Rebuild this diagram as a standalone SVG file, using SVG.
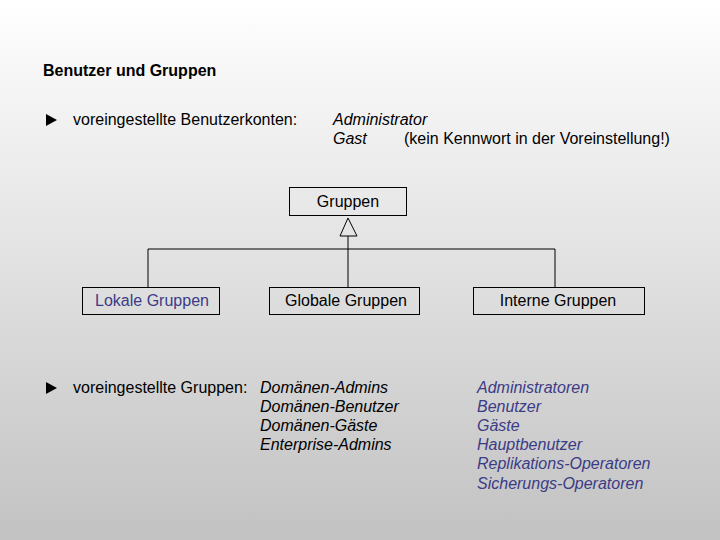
<svg xmlns="http://www.w3.org/2000/svg" width="720" height="540" viewBox="0 0 720 540">
<defs>
<linearGradient id="bg" x1="0" y1="0" x2="0" y2="1">
<stop offset="0" stop-color="#ffffff"/>
<stop offset="1" stop-color="#c2c2c2"/>
</linearGradient>
<style>
text{font-family:"Liberation Sans",Arial,sans-serif;font-size:16px;fill:#000}
.b{font-weight:bold;font-size:16px}
.i{font-style:italic}
.blue{fill:#3b3b86}
.box{fill:none;stroke:#000;stroke-width:1}
.ln{fill:none;stroke:#000;stroke-width:1}
.c{text-anchor:middle}
</style>
</defs>
<rect width="720" height="540" fill="url(#bg)"/>
<text class="b" x="43" y="76">Benutzer und Gruppen</text>
<path d="M46 114 L57 120 L46 126 Z" fill="#000"/>
<text x="73" y="125">voreingestellte Benutzerkonten:</text>
<text class="i" x="333" y="125">Administrator</text>
<text class="i" x="333" y="144">Gast</text>
<text x="404" y="144">(kein Kennwort in der Voreinstellung!)</text>
<g id="connectors">
<path class="ln" d="M348 236 V287 M148 287 V249 H555 V287"/>
<path class="ln" d="M348 218 L357 236 H340 Z" fill="#fff"/>
</g>
<g id="gruppen">
<rect class="box" x="289.5" y="187.5" width="117" height="28"/>
<text class="c" x="348" y="207">Gruppen</text>
</g>
<g id="lokale">
<rect class="box" x="82.5" y="287.5" width="137" height="27"/>
<text class="c blue" x="152" y="306">Lokale Gruppen</text>
</g>
<g id="globale">
<rect class="box" x="269.5" y="287.5" width="150" height="27"/>
<text class="c" x="346" y="306">Globale Gruppen</text>
</g>
<g id="interne">
<rect class="box" x="473.5" y="287.5" width="171" height="27"/>
<text class="c" x="558" y="306">Interne Gruppen</text>
</g>
<path d="M46 382 L57 388 L46 394 Z" fill="#000"/>
<text x="73" y="393">voreingestellte Gruppen:</text>
<text class="i" x="260" y="393">Domänen-Admins</text>
<text class="i" x="260" y="412">Domänen-Benutzer</text>
<text class="i" x="260" y="431">Domänen-Gäste</text>
<text class="i" x="260" y="450">Enterprise-Admins</text>
<text class="i blue" x="477" y="393">Administratoren</text>
<text class="i blue" x="477" y="412">Benutzer</text>
<text class="i blue" x="477" y="431">Gäste</text>
<text class="i blue" x="477" y="450">Hauptbenutzer</text>
<text class="i blue" x="477" y="469">Replikations-Operatoren</text>
<text class="i blue" x="477" y="489">Sicherungs-Operatoren</text>
</svg>
